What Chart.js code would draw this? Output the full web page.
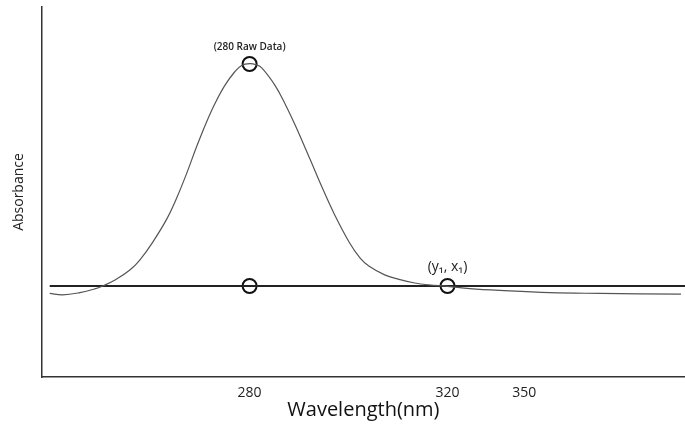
<!DOCTYPE html>
<html>
<head>
<meta charset="utf-8">
<script src="https://cdn.jsdelivr.net/npm/chart.js@4"></script>
<style>
  html, body { margin: 0; padding: 0; background: #fff; }
  #wrap { width: 685px; height: 425px; }
</style>
</head>
<body>
<div id="wrap"><canvas id="absorbance-chart"></canvas></div>
<script>
// spectrum curve
const curveNm = [239.6, 242.2, 245.7, 248.7, 250.3, 252.8, 255.8, 257.8, 260.4, 263.3, 265.3, 267.3, 269.3,
                 271.2, 273.0, 275.0, 277.0, 278.4, 280, 281.3, 282.5, 285.1, 287.1, 289.2, 292.2, 294.8,
                 297.2, 300.1, 302.3, 304.1, 307.3, 310.2, 313.4, 316.2, 320, 324.5, 330.6, 340.7, 350.8, 367.2];
const curveAbs = [0.226, 0.222, 0.228, 0.238, 0.246, 0.262, 0.289, 0.316, 0.364, 0.428, 0.485, 0.551, 0.623,
                  0.686, 0.739, 0.788, 0.825, 0.842, 0.847, 0.844, 0.835, 0.789, 0.740, 0.681, 0.589, 0.508,
                  0.438, 0.365, 0.322, 0.300, 0.276, 0.264, 0.254, 0.249, 0.245, 0.239, 0.234, 0.228, 0.226, 0.224];

// flat baseline
const baseNm = [239.6, 368];
const baseAbs = [0.246, 0.246];

// open circle markers
const markerNm = [280, 280, 320];
const markerAbs = [0.846, 0.246, 0.246];

// text next to the markers
const noteText = ['(280 Raw Data)', '(y\u2081, x\u2081)'];
const noteNm = [280, 320];
const noteAbs = [0.846, 0.246];

// x tick labels (axis is schematic, 350 sits closer than scale)
const tickPositions = [280, 320, 335.5];
const tickLabels = ['280', '320', '350'];

const toPoints = (xs, ys) => xs.map((x, i) => ({x: x, y: ys[i]}));

const notesPlugin = {
    id: 'notes',
    afterDatasetsDraw(chart) {
        const ctx = chart.ctx;
        const xs = chart.scales.x, ys = chart.scales.y;
        ctx.save();
        ctx.fillStyle = '#222';
        ctx.textAlign = 'center';
        ctx.textBaseline = 'middle';
        noteText.forEach((t, i) => {
            const px = xs.getPixelForValue(noteNm[i]);
            const py = ys.getPixelForValue(noteAbs[i]);
            ctx.font = i === 0 ? '600 10px "Open Sans"' : '14px "Open Sans"';
            ctx.fillText(t, px, py - (i === 0 ? 17 : 19));
        });
        ctx.restore();
    }
};

const ctx = document.getElementById('absorbance-chart').getContext('2d');
const absChart = new Chart(ctx, {
    type: 'line',
    data: {
        datasets: [{
            data: toPoints(curveNm, curveAbs),
            borderColor: '#555',
            borderWidth: 1.2,
            pointRadius: 0,
            tension: 0.4,
            fill: false
        }, {
            data: toPoints(baseNm, baseAbs),
            borderColor: '#222',
            borderWidth: 2,
            pointRadius: 0,
            fill: false
        }, {
            data: toPoints(markerNm, markerAbs),
            showLine: false,
            pointStyle: 'circle',
            pointRadius: 7,
            pointBorderWidth: 2,
            pointBorderColor: '#111',
            pointBackgroundColor: 'rgba(0,0,0,0)'
        }]
    },
    options: {
        responsive: true,
        maintainAspectRatio: false,
        animation: false,
        layout: {
            autoPadding: false,
            padding: { top: 7, left: 7, right: 0, bottom: 0 }
        },
        scales: {
            x: {
                type: 'linear',
                min: 238,
                max: 368,
                grid: { display: false, drawTicks: false, tickLength: 0 },
                border: { display: true, color: '#333', width: 1.5 },
                afterBuildTicks: (scale) => {
                    scale.ticks = tickPositions.map(v => ({ value: v }));
                },
                ticks: {
                    autoSkip: false,
                    maxRotation: 0,
                    padding: 9,
                    color: '#222',
                    font: { family: 'Open Sans', size: 14, lineHeight: 1 },
                    callback: (v, i) => tickLabels[i]
                },
                title: {
                    display: true,
                    text: 'Wavelength(nm)',
                    color: '#111',
                    padding: { top: -9, bottom: 5 },
                    font: { family: 'Open Sans', size: 20, lineHeight: 1 }
                }
            },
            y: {
                min: 0,
                max: 1,
                grid: { display: false, drawTicks: false, tickLength: 0 },
                border: { display: true, color: '#333', width: 1.5 },
                ticks: { display: false },
                title: {
                    display: true,
                    text: 'Absorbance',
                    color: '#222',
                    padding: { top: 4, bottom: 14 },
                    font: { family: 'Open Sans', size: 14 }
                }
            }
        },
        plugins: {
            legend: { display: false },
            tooltip: { enabled: false }
        }
    },
    plugins: [notesPlugin]
});
</script>
</body>
</html>
